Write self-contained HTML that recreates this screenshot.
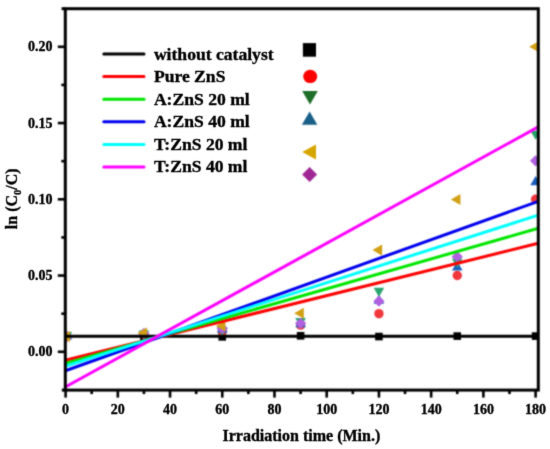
<!DOCTYPE html>
<html><head><meta charset="utf-8"><style>
html,body{margin:0;padding:0;background:#fff;}
body{width:550px;height:449px;position:relative;overflow:hidden;font-family:"Liberation Serif",serif;}
</style></head><body>
<svg width="550" height="449" viewBox="0 0 550 449" style="position:absolute;left:0;top:0">
<defs><filter id="bl" filterUnits="userSpaceOnUse" x="0" y="0" width="550" height="449" color-interpolation-filters="sRGB"><feConvolveMatrix order="3" kernelMatrix="0.0400 0.1200 0.0400 0.1200 0.3600 0.1200 0.0400 0.1200 0.0400" edgeMode="duplicate" preserveAlpha="true"/></filter><filter id="bt" filterUnits="userSpaceOnUse" x="0" y="0" width="550" height="449" color-interpolation-filters="sRGB"><feConvolveMatrix order="3" kernelMatrix="0.0100 0.0800 0.0100 0.0800 0.6400 0.0800 0.0100 0.0800 0.0100" edgeMode="none" preserveAlpha="false"/></filter><clipPath id="c"><rect x="65.30" y="8.70" width="473.00" height="381.40"/></clipPath></defs>
<g filter="url(#bl)"><rect x="0" y="0" width="550" height="449" fill="#fff"/>
<g clip-path="url(#c)">
<rect x="61.80" y="332.75" width="7.60" height="7.60" fill="#000"/>
<rect x="140.13" y="332.75" width="7.60" height="7.60" fill="#000"/>
<rect x="218.47" y="333.06" width="7.60" height="7.60" fill="#000"/>
<rect x="296.80" y="331.99" width="7.60" height="7.60" fill="#000"/>
<rect x="375.13" y="332.75" width="7.60" height="7.60" fill="#000"/>
<rect x="453.46" y="332.29" width="7.60" height="7.60" fill="#000"/>
<rect x="531.80" y="332.29" width="7.60" height="7.60" fill="#000"/>
<circle cx="66.80" cy="336.55" r="4.70" fill="#f0373c"/>
<circle cx="143.93" cy="334.26" r="4.70" fill="#f0373c"/>
<circle cx="222.27" cy="331.06" r="4.70" fill="#f0373c"/>
<circle cx="300.60" cy="325.11" r="4.70" fill="#f0373c"/>
<circle cx="378.93" cy="313.68" r="4.70" fill="#f0373c"/>
<circle cx="457.26" cy="275.55" r="4.70" fill="#f0373c"/>
<circle cx="535.60" cy="199.30" r="4.70" fill="#f0373c"/>
<polygon points="66.80,330.45 61.52,339.60 72.08,339.60" fill="#1b5fc0"/>
<polygon points="143.93,328.16 138.65,337.31 149.22,337.31" fill="#1b5fc0"/>
<polygon points="222.27,323.59 216.98,332.74 227.55,332.74" fill="#1b5fc0"/>
<polygon points="300.60,318.10 295.32,327.25 305.88,327.25" fill="#1b5fc0"/>
<polygon points="378.93,294.61 373.65,303.76 384.21,303.76" fill="#1b5fc0"/>
<polygon points="457.26,261.37 451.98,270.52 462.55,270.52" fill="#1b5fc0"/>
<polygon points="535.60,176.12 530.32,185.27 540.88,185.27" fill="#1b5fc0"/>
<polygon points="66.80,341.13 61.52,331.98 72.08,331.98" fill="#28a56e"/>
<polygon points="143.93,339.60 138.65,330.45 149.22,330.45" fill="#28a56e"/>
<polygon points="222.27,336.09 216.98,326.94 227.55,326.94" fill="#28a56e"/>
<polygon points="300.60,327.25 295.32,318.10 305.88,318.10" fill="#28a56e"/>
<polygon points="378.93,296.90 373.65,287.75 384.21,287.75" fill="#28a56e"/>
<polygon points="457.26,267.93 451.98,258.78 462.55,258.78" fill="#28a56e"/>
<polygon points="535.60,139.83 530.32,130.68 540.88,130.68" fill="#28a56e"/>
<polygon points="66.80,330.95 72.40,336.55 66.80,342.15 61.20,336.55" fill="#b060e0"/>
<polygon points="143.93,327.90 149.53,333.50 143.93,339.10 138.33,333.50" fill="#b060e0"/>
<polygon points="222.27,322.87 227.87,328.47 222.27,334.07 216.67,328.47" fill="#b060e0"/>
<polygon points="300.60,317.68 306.20,323.28 300.60,328.88 295.00,323.28" fill="#b060e0"/>
<polygon points="378.93,295.57 384.53,301.17 378.93,306.77 373.33,301.17" fill="#b060e0"/>
<polygon points="457.26,251.04 462.87,256.64 457.26,262.24 451.66,256.64" fill="#b060e0"/>
<polygon points="535.60,155.27 541.20,160.87 535.60,166.47 530.00,160.87" fill="#b060e0"/>
<polygon points="60.40,336.55 70.00,331.01 70.00,342.09" fill="#d2a014"/>
<polygon points="137.53,333.04 147.13,327.50 147.13,338.59" fill="#d2a014"/>
<polygon points="215.87,326.03 225.47,320.48 225.47,331.57" fill="#d2a014"/>
<polygon points="294.20,313.22 303.80,307.67 303.80,318.76" fill="#d2a014"/>
<polygon points="372.53,250.08 382.13,244.54 382.13,255.63" fill="#d2a014"/>
<polygon points="450.87,199.45 460.46,193.91 460.46,205.00" fill="#d2a014"/>
<polygon points="529.20,46.80 538.80,41.26 538.80,52.34" fill="#d2a014"/>
<line x1="65.30" y1="336.20" x2="538.30" y2="336.20" stroke="#000" stroke-width="3.00"/>
<line x1="65.30" y1="360.30" x2="538.30" y2="243.30" stroke="#ff0000" stroke-width="3.00"/>
<line x1="65.30" y1="363.50" x2="538.30" y2="228.30" stroke="#00e600" stroke-width="3.00"/>
<line x1="65.30" y1="370.80" x2="538.30" y2="201.30" stroke="#0000ee" stroke-width="3.00"/>
<line x1="65.30" y1="366.20" x2="538.30" y2="215.10" stroke="#00ffff" stroke-width="3.00"/>
<line x1="65.30" y1="387.00" x2="538.30" y2="126.90" stroke="#ff00ff" stroke-width="3.00"/>
</g>
<rect x="65.30" y="8.70" width="473.00" height="381.40" fill="none" stroke="#000" stroke-width="3.00"/>
<line x1="61.6" y1="8.70" x2="65.30" y2="8.70" stroke="#000" stroke-width="3.00"/>
<line x1="61.8" y1="390.10" x2="65.30" y2="390.10" stroke="#000" stroke-width="3.00"/>
<line x1="65.60" y1="390.10" x2="65.60" y2="397.60" stroke="#000" stroke-width="2.6"/>
<line x1="91.71" y1="390.10" x2="91.71" y2="394.10" stroke="#000" stroke-width="2.6"/>
<line x1="117.82" y1="390.10" x2="117.82" y2="397.60" stroke="#000" stroke-width="2.6"/>
<line x1="143.93" y1="390.10" x2="143.93" y2="394.10" stroke="#000" stroke-width="2.6"/>
<line x1="170.04" y1="390.10" x2="170.04" y2="397.60" stroke="#000" stroke-width="2.6"/>
<line x1="196.16" y1="390.10" x2="196.16" y2="394.10" stroke="#000" stroke-width="2.6"/>
<line x1="222.27" y1="390.10" x2="222.27" y2="397.60" stroke="#000" stroke-width="2.6"/>
<line x1="248.38" y1="390.10" x2="248.38" y2="394.10" stroke="#000" stroke-width="2.6"/>
<line x1="274.49" y1="390.10" x2="274.49" y2="397.60" stroke="#000" stroke-width="2.6"/>
<line x1="300.60" y1="390.10" x2="300.60" y2="394.10" stroke="#000" stroke-width="2.6"/>
<line x1="326.71" y1="390.10" x2="326.71" y2="397.60" stroke="#000" stroke-width="2.6"/>
<line x1="352.82" y1="390.10" x2="352.82" y2="394.10" stroke="#000" stroke-width="2.6"/>
<line x1="378.93" y1="390.10" x2="378.93" y2="397.60" stroke="#000" stroke-width="2.6"/>
<line x1="405.04" y1="390.10" x2="405.04" y2="394.10" stroke="#000" stroke-width="2.6"/>
<line x1="431.15" y1="390.10" x2="431.15" y2="397.60" stroke="#000" stroke-width="2.6"/>
<line x1="457.26" y1="390.10" x2="457.26" y2="394.10" stroke="#000" stroke-width="2.6"/>
<line x1="483.38" y1="390.10" x2="483.38" y2="397.60" stroke="#000" stroke-width="2.6"/>
<line x1="509.49" y1="390.10" x2="509.49" y2="394.10" stroke="#000" stroke-width="2.6"/>
<line x1="535.60" y1="390.10" x2="535.60" y2="397.60" stroke="#000" stroke-width="2.6"/>
<line x1="57.80" y1="351.80" x2="65.30" y2="351.80" stroke="#000" stroke-width="2.6"/>
<line x1="61.30" y1="313.68" x2="65.30" y2="313.68" stroke="#000" stroke-width="2.6"/>
<line x1="57.80" y1="275.55" x2="65.30" y2="275.55" stroke="#000" stroke-width="2.6"/>
<line x1="61.30" y1="237.43" x2="65.30" y2="237.43" stroke="#000" stroke-width="2.6"/>
<line x1="57.80" y1="199.30" x2="65.30" y2="199.30" stroke="#000" stroke-width="2.6"/>
<line x1="61.30" y1="161.17" x2="65.30" y2="161.17" stroke="#000" stroke-width="2.6"/>
<line x1="57.80" y1="123.05" x2="65.30" y2="123.05" stroke="#000" stroke-width="2.6"/>
<line x1="61.30" y1="84.93" x2="65.30" y2="84.93" stroke="#000" stroke-width="2.6"/>
<line x1="57.80" y1="46.80" x2="65.30" y2="46.80" stroke="#000" stroke-width="2.6"/>
<line x1="103.8" y1="54.00" x2="144.0" y2="54.00" stroke="#000" stroke-width="3" stroke-linecap="round"/>
<line x1="103.8" y1="76.60" x2="144.0" y2="76.60" stroke="#ff0000" stroke-width="3" stroke-linecap="round"/>
<line x1="103.8" y1="99.20" x2="144.0" y2="99.20" stroke="#00e600" stroke-width="3" stroke-linecap="round"/>
<line x1="103.8" y1="121.80" x2="144.0" y2="121.80" stroke="#0000ee" stroke-width="3" stroke-linecap="round"/>
<line x1="103.8" y1="144.40" x2="144.0" y2="144.40" stroke="#00ffff" stroke-width="3" stroke-linecap="round"/>
<line x1="103.8" y1="167.00" x2="144.0" y2="167.00" stroke="#ff00ff" stroke-width="3" stroke-linecap="round"/>
<rect x="302.9" y="43.1" width="13.1" height="13.6" fill="#000"/>
<ellipse cx="310.2" cy="76.4" rx="7.0" ry="6.7" fill="#ff0000"/>
<polygon points="310.00,104.50 302.21,91.00 317.79,91.00" fill="#1e6e28"/>
<polygon points="309.60,111.40 301.89,124.75 317.31,124.75" fill="#195f87"/>
<polygon points="302.2,152.1 316,144.6 316,159.6" fill="#d7a500"/>
<polygon points="309.60,167.10 317.10,174.60 309.60,182.10 302.10,174.60" fill="#a02896"/>
</g>
<g filter="url(#bt)" stroke="#000" stroke-width="0.35">
<text x="65.60" y="413.80" text-anchor="middle" font-family='"Liberation Serif", serif' font-weight="bold" font-size="14">0</text>
<text x="117.82" y="413.80" text-anchor="middle" font-family='"Liberation Serif", serif' font-weight="bold" font-size="14">20</text>
<text x="170.04" y="413.80" text-anchor="middle" font-family='"Liberation Serif", serif' font-weight="bold" font-size="14">40</text>
<text x="222.27" y="413.80" text-anchor="middle" font-family='"Liberation Serif", serif' font-weight="bold" font-size="14">60</text>
<text x="274.49" y="413.80" text-anchor="middle" font-family='"Liberation Serif", serif' font-weight="bold" font-size="14">80</text>
<text x="326.71" y="413.80" text-anchor="middle" font-family='"Liberation Serif", serif' font-weight="bold" font-size="14">100</text>
<text x="378.93" y="413.80" text-anchor="middle" font-family='"Liberation Serif", serif' font-weight="bold" font-size="14">120</text>
<text x="431.15" y="413.80" text-anchor="middle" font-family='"Liberation Serif", serif' font-weight="bold" font-size="14">140</text>
<text x="483.38" y="413.80" text-anchor="middle" font-family='"Liberation Serif", serif' font-weight="bold" font-size="14">160</text>
<text x="535.60" y="413.80" text-anchor="middle" font-family='"Liberation Serif", serif' font-weight="bold" font-size="14">180</text>
<text x="52.60" y="356.40" text-anchor="end" font-family='"Liberation Serif", serif' font-weight="bold" font-size="14">0.00</text>
<text x="52.60" y="280.15" text-anchor="end" font-family='"Liberation Serif", serif' font-weight="bold" font-size="14">0.05</text>
<text x="52.60" y="203.90" text-anchor="end" font-family='"Liberation Serif", serif' font-weight="bold" font-size="14">0.10</text>
<text x="52.60" y="127.65" text-anchor="end" font-family='"Liberation Serif", serif' font-weight="bold" font-size="14">0.15</text>
<text x="52.60" y="51.40" text-anchor="end" font-family='"Liberation Serif", serif' font-weight="bold" font-size="14">0.20</text>
<text x="301.40" y="441.20" text-anchor="middle" font-family='"Liberation Serif", serif' font-weight="bold" font-size="16">Irradiation time (Min.)</text>
<text transform="translate(17,198.8) rotate(-90)" text-anchor="middle" font-family='"Liberation Serif", serif' font-weight="bold" font-size="16">ln (C<tspan font-size="10.5" dy="3.8">0</tspan><tspan dy="-3.8">/C)</tspan></text>
<text x="153.9" y="59.90" font-family='"Liberation Serif", serif' font-weight="bold" font-size="17.6">without catalyst</text>
<text x="153.9" y="82.30" font-family='"Liberation Serif", serif' font-weight="bold" font-size="17.6">Pure ZnS</text>
<text x="153.9" y="104.70" font-family='"Liberation Serif", serif' font-weight="bold" font-size="17.6">A:ZnS 20 ml</text>
<text x="153.9" y="127.10" font-family='"Liberation Serif", serif' font-weight="bold" font-size="17.6">A:ZnS 40 ml</text>
<text x="153.9" y="149.50" font-family='"Liberation Serif", serif' font-weight="bold" font-size="17.6">T:ZnS 20 ml</text>
<text x="153.9" y="171.90" font-family='"Liberation Serif", serif' font-weight="bold" font-size="17.6">T:ZnS 40 ml</text>
</g></svg>
</body></html>
